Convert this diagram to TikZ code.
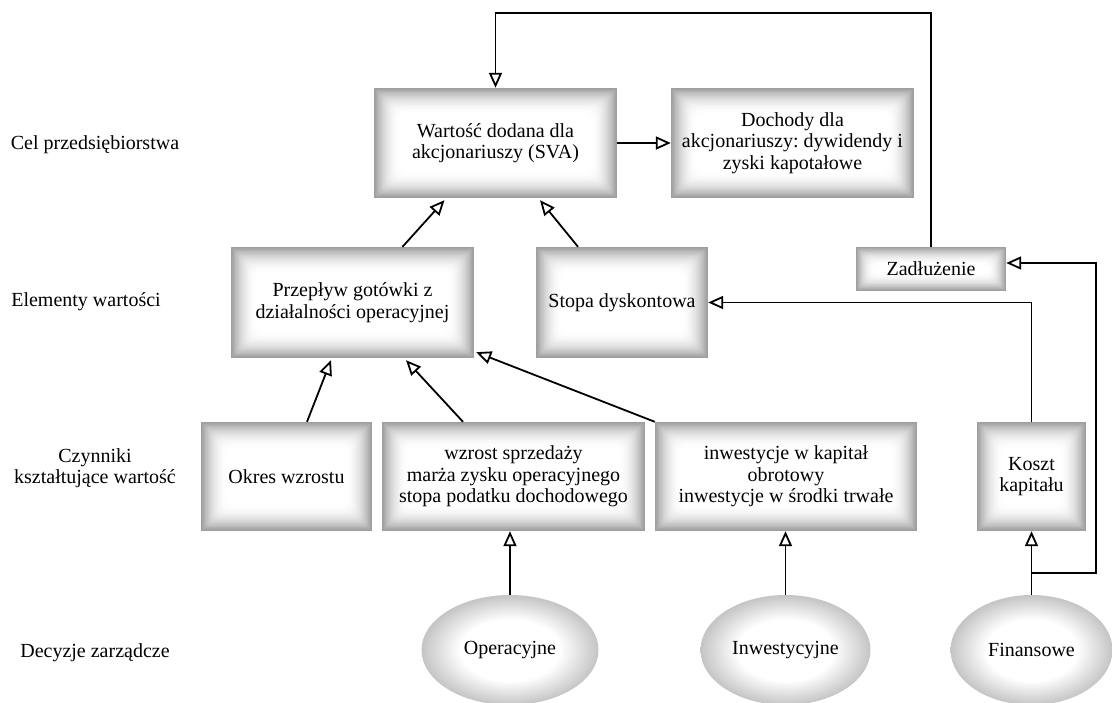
\documentclass[tikz,border=0pt]{standalone}
\usepackage{fontspec}
\setmainfont{Liberation Serif}
\frenchspacing
\usetikzlibrary{arrows.meta,calc,shapes.geometric}
\pgfdeclareradialshading{ellsh}{\pgfpoint{0bp}{0bp}}{color(0bp)=(white); color(14bp)=(white); color(25bp)=(black!23); color(50bp)=(black!23)}
\def\lstep{1.3pt}
\newcommand\boxlayers{%
  \foreach \i in {0,...,19}{%
    \pgfmathsetmacro\shc{38*(1-\i/20)^2}%
    \fill[black!\shc, rounded corners=\i*0.5pt]
      ($(path picture bounding box.south west)+(\i*\lstep,\i*\lstep)$) rectangle
      ($(path picture bounding box.north east)-(\i*\lstep,\i*\lstep)$);}}
\tikzset{
  sbox/.style n args={2}{rectangle, inner sep=0pt, align=center,
    minimum width=#1, minimum height=#2, path picture={\boxlayers}},
  lay step/.code={\def\lstep{#1}},
  ell/.style n args={2}{ellipse, shade, shading=ellsh, inner sep=0pt,
    minimum width=#1, minimum height=#2},
  lbl/.style={align=center},
  arr/.style={line width=1.8pt, -{Triangle[fill=white, length=15pt, width=13pt, line width=1.8pt]}}
}
\begin{document}
\begin{tikzpicture}[x=1pt,y=-1pt,font=\fontsize{20}{21.5}\selectfont]
\useasboundingbox (0,0) rectangle (1113,702);

% left labels
\node[lbl] (l1) at (95,145) {Cel przedsiębiorstwa};
\node[lbl] (l2) at (86,302) {Elementy wartości};
\node[lbl] (l3) at (95,468) {Czynniki\\kształtujące wartość};
\node[lbl] (l4) at (95,653) {Decyzje zarządcze};

% boxes
\node[sbox={243pt}{110pt}] (sva) at (495.5,143) {Wartość dodana dla\\akcjonariuszy (SVA)};
\node[sbox={243pt}{110pt}] (doch) at (792.5,143) {Dochody dla\\akcjonariuszy: dywidendy i\\zyski kapotałowe};
\node[sbox={243pt}{111pt}] (prz) at (352.5,302.5) {Przepływ gotówki z\\działalności operacyjnej};
\node[sbox={172pt}{111pt}] (stopa) at (622,302.5) {Stopa dyskontowa};
\node[sbox={150pt}{44pt}, lay step=0.9pt] (zad) at (931,269) {Zadłużenie};
\node[sbox={171pt}{109pt}] (okres) at (286.5,476.5) {Okres wzrostu};
\node[sbox={263pt}{109pt}] (wz) at (513.5,476.5) {wzrost sprzedaży\\marża zysku operacyjnego\\stopa podatku dochodowego};
\node[sbox={262pt}{109pt}] (inwb) at (786,476.5) {inwestycje w kapitał\\obrotowy\\inwestycje w środki trwałe};
\node[sbox={109pt}{109pt}] (koszt) at (1031.5,476.5) {Koszt\\kapitału};

% ellipses
\node[ell={177pt}{110pt}] (op) at (510,650) {Operacyjne};
\node[ell={170pt}{110pt}] (inw) at (785.5,650) {Inwestycyjne};
\node[ell={162pt}{110pt}] (fin) at (1031.5,650) {Finansowe};

% helper coordinates
\coordinate (top) at (0,13);
\coordinate (junc) at (1031.5,573);
\coordinate (rt) at (1096,573);

% connectors
\draw[arr] (zad.north) |- (sva.north |- top) -- (sva.north);
\draw[arr] (sva.east) -- (doch.west);
\draw[arr] ($(prz.north)+(50,0)$) -- ($(sva.south)+(-51,2)$);
\draw[arr] ($(stopa.north)+(-44,0)$) -- ($(sva.south)+(44.5,2)$);
\draw[arr] ($(okres.north)+(20.5,0)$) -- ($(prz.south)+(-21.5,2)$);
\draw[arr] ($(wz.north)+(-50.5,0)$) -- ($(prz.south)+(53.5,2)$);
\draw[arr] (inwb.north west) -- ($(prz.south east)+(2,-6)$);
\draw[arr] (koszt.north) |- (stopa.east);
\draw[arr] (fin.north) -- (koszt.south);
\draw[arr] (junc) -- (rt) |- ($(zad.east)+(0,-6)$);
\draw[arr] (op.north) -- (op.north |- wz.south);
\draw[arr] (inw.north) -- (inw.north |- inwb.south);
\end{tikzpicture}
\end{document}
